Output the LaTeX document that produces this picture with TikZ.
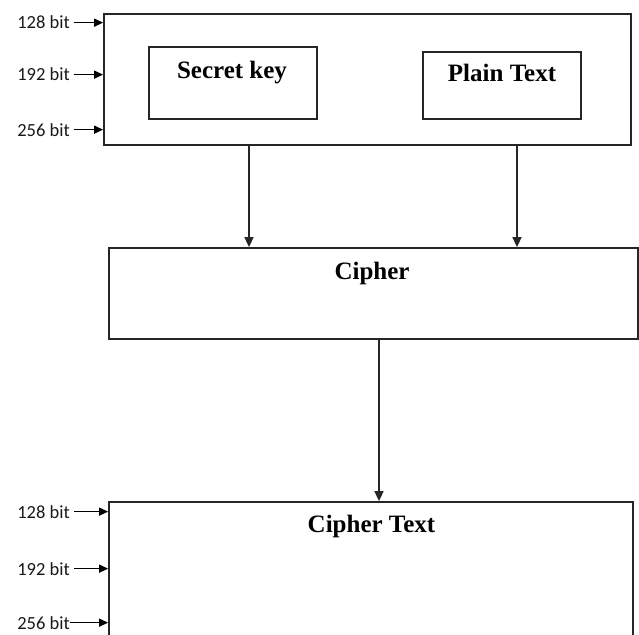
\documentclass[tikz,border=0pt]{standalone}
\usepackage{fontspec}
\setmainfont{Liberation Serif}
\newfontfamily\bitfont{Carlito}
\usetikzlibrary{arrows.meta}

\begin{document}
\begin{tikzpicture}[
  x=1pt, y=-1pt,
  >={Triangle[length=10pt,width=9pt]},
  box/.style={draw=black!85, line width=1.8pt, inner sep=0pt},
  title/.style={font=\bfseries\fontsize{25}{30}\selectfont, anchor=base, inner sep=0pt},
  bitlbl/.style={font=\bitfont\fontsize{18.5}{22}\selectfont, anchor=base east,
                 inner sep=0pt, text=black!90},
  arr/.style={->, draw=black!85, line width=1.6pt},
  inarr/.style={->, line width=1.3pt, >={Triangle[length=9pt,width=8pt]}},
]
\useasboundingbox (0,0) rectangle (639,634);
\clip (0,0) rectangle (639,634);

%% ===== INPUT BLOCK =====
\node[box, minimum width=527pt, minimum height=131pt] (inbox) at (367.5,79.5) {};
\node[box, minimum width=168pt, minimum height=72pt] (skey) at (233,83) {};
\node[title] (skeyt) at (232,78.5) {Secret key};
\node[box, minimum width=158pt, minimum height=67pt] (ptext) at (502,85.5) {};
\node[title] (ptextt) at (502,81.5) {Plain Text};

%% ===== CIPHER =====
\node[box, minimum width=529pt, minimum height=91pt] (cipher) at (373.5,293.5) {};
\node[title] (ciphert) at (372,279.5) {Cipher};

%% ===== OUTPUT (cut off at the bottom) =====
\node[box, minimum width=524pt, minimum height=200pt] (ctext) at (371,602) {};
\node[title] (ctextt) at (371.5,532) {Cipher Text};

%% ===== KEY SIZES =====
\foreach \b/\y in {128/29,192/81,256/136}
  \node[bitlbl] (top\b) at (70,\y) {\b\ bit};
\foreach \b/\y in {128/518,192/575,256/629}
  \node[bitlbl] (bot\b) at (70,\y) {\b\ bit};

\foreach \b in {128,192,256}
  \draw[inarr] ([xshift=4pt]top\b.east) -- (top\b.east -| inbox.west);
\foreach \b/\s in {128/4pt,192/4pt,256/0pt}
  \draw[inarr] ([xshift=\s]bot\b.east) -- (bot\b.east -| ctext.west);

%% ===== CONNECTING ARROWS =====
\draw[arr] ([xshift=16pt]skey.south |- inbox.south) -- ([xshift=16pt]skey.south |- cipher.north);
\draw[arr] ([xshift=15pt]ptext.south |- inbox.south) -- ([xshift=15pt]ptext.south |- cipher.north);
\draw[arr] ([xshift=5.5pt]cipher.south) -- ([xshift=5.5pt]cipher.south |- ctext.north);

\end{tikzpicture}
\end{document}
